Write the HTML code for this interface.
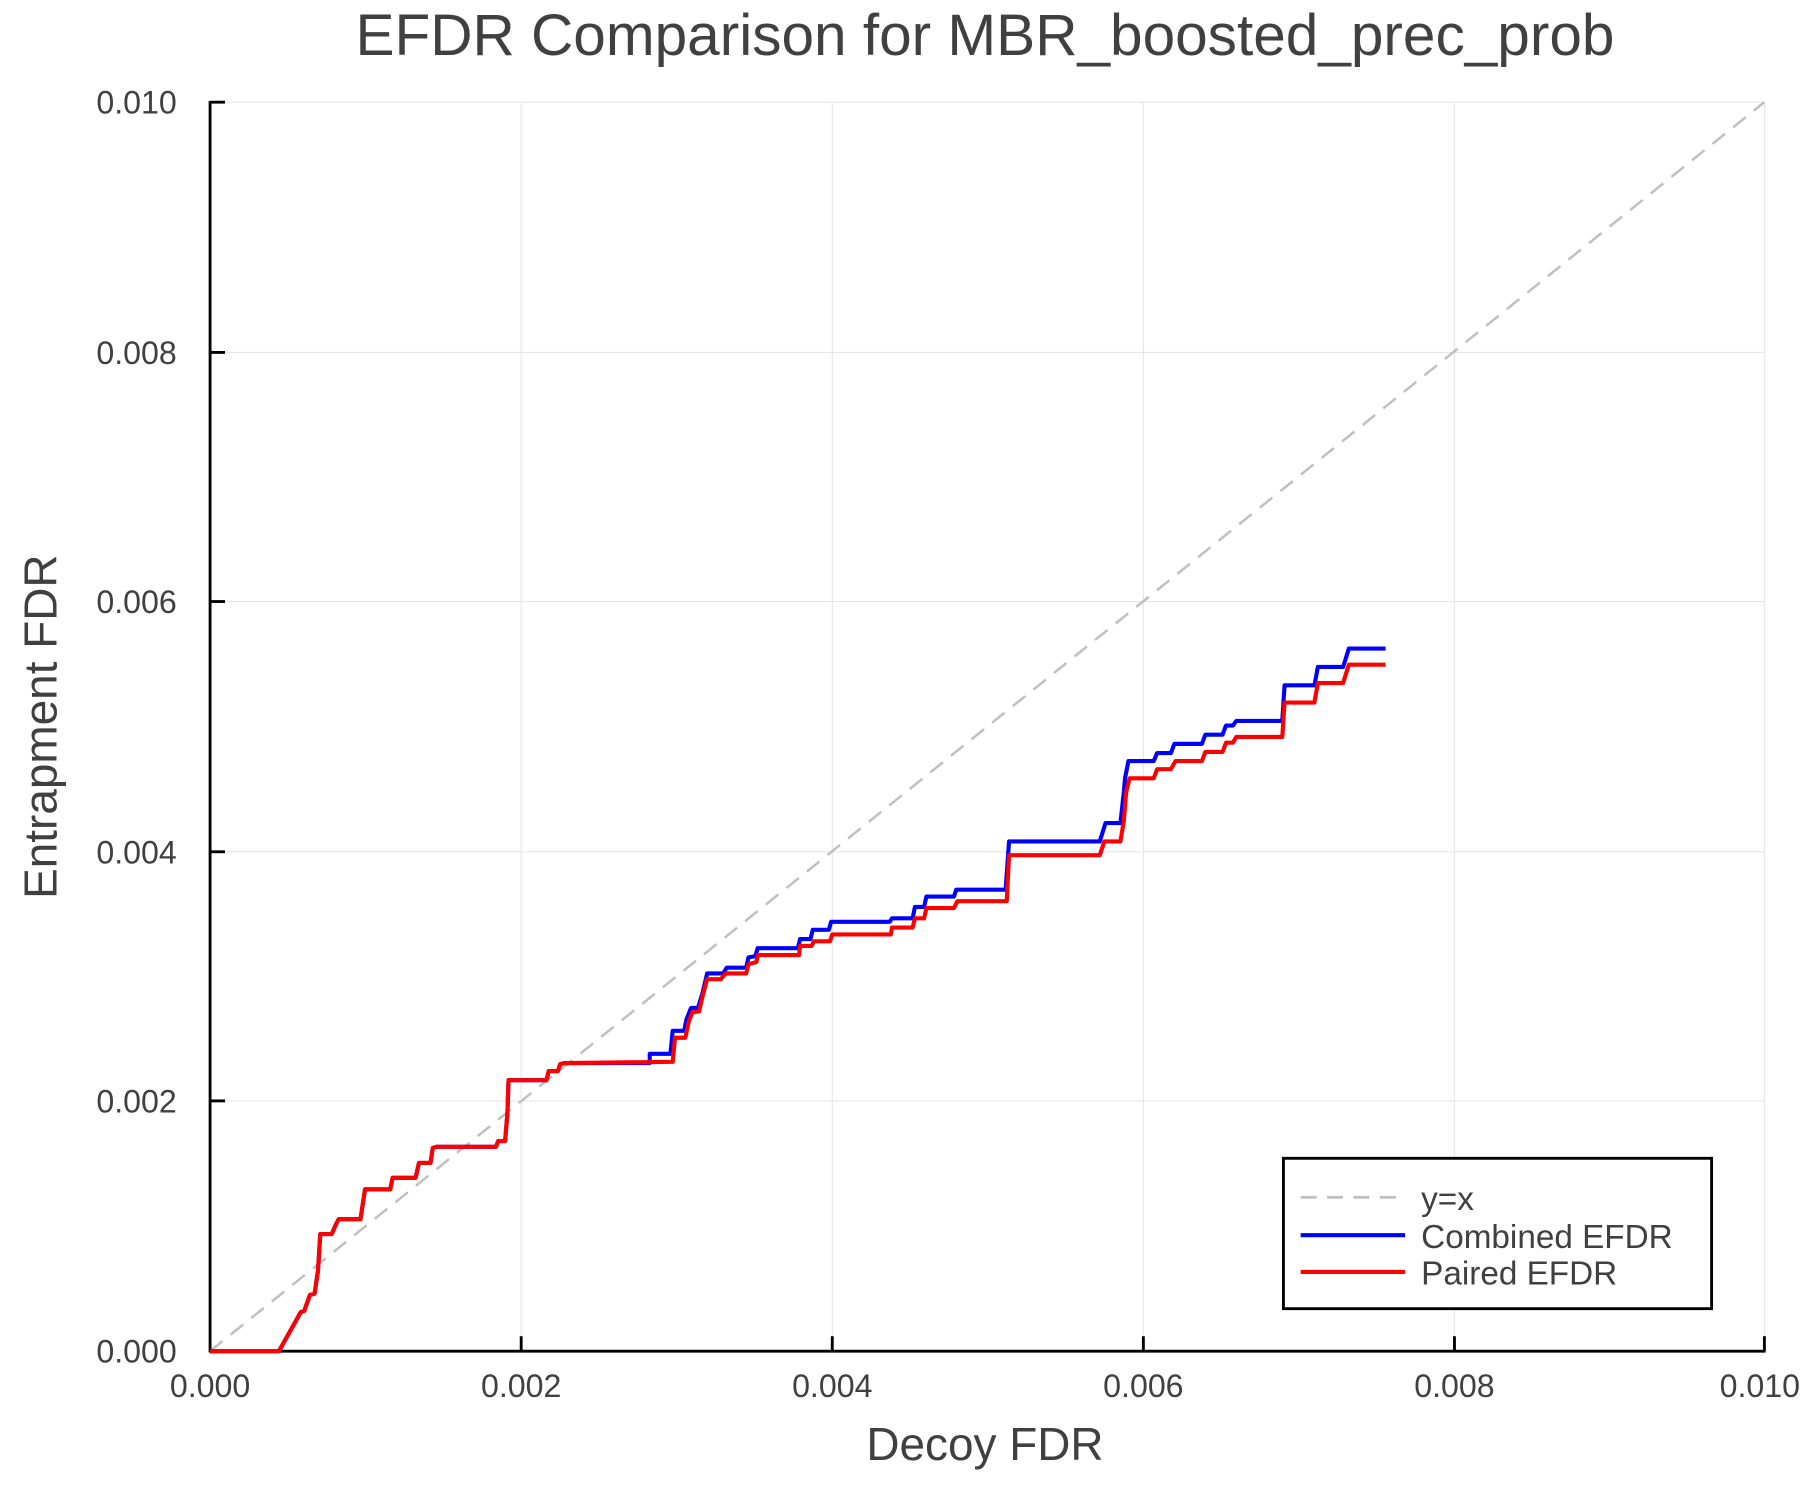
<!DOCTYPE html>
<html><head><meta charset="utf-8"><style>html,body{margin:0;padding:0;background:#fff}svg{display:block}</style></head>
<body>
<svg width="1800" height="1500" viewBox="0 0 1568 1306.67" xmlns="http://www.w3.org/2000/svg" font-family="Liberation Sans, sans-serif">
<rect width="1568" height="1306.67" fill="#fff"/>
<g stroke="#e6e6e6" stroke-width="1">
<line x1="454" y1="89" x2="454" y2="1177"/><line x1="725" y1="89" x2="725" y2="1177"/><line x1="996" y1="89" x2="996" y2="1177"/><line x1="1267" y1="89" x2="1267" y2="1177"/><line x1="1537" y1="89" x2="1537" y2="1177"/>
<line x1="183" y1="959" x2="1537" y2="959"/><line x1="183" y1="742" x2="1537" y2="742"/><line x1="183" y1="524" x2="1537" y2="524"/><line x1="183" y1="307" x2="1537" y2="307"/><line x1="183" y1="89" x2="1537" y2="89"/>
</g>
<line x1="183" y1="1177" x2="1537" y2="89" stroke="#c0c0c0" stroke-width="2.2" stroke-dasharray="14,9"/>
<g stroke="#000" stroke-width="2.5" fill="none">
<line x1="183" y1="88" x2="183" y2="1178"/><line x1="182" y1="1177" x2="1538" y2="1177"/>
<line x1="454" y1="1177" x2="454" y2="1164"/><line x1="725" y1="1177" x2="725" y2="1164"/><line x1="996" y1="1177" x2="996" y2="1164"/><line x1="1267" y1="1177" x2="1267" y2="1164"/><line x1="1537" y1="1177" x2="1537" y2="1164"/>
<line x1="183" y1="959" x2="196" y2="959"/><line x1="183" y1="742" x2="196" y2="742"/><line x1="183" y1="524" x2="196" y2="524"/><line x1="183" y1="307" x2="196" y2="307"/><line x1="183" y1="89" x2="196" y2="89"/>
</g>
<polyline fill="none" stroke="#0000ff" stroke-width="3.6" stroke-linejoin="round" points="183,1177 243,1177 262,1143 265,1142 270,1128 274,1127 277,1107 279,1075 289,1075 292,1068 295,1062 314,1062 318,1036 340,1036 342,1026 362,1026 365,1013 375,1013 377,1000 380,999 432,999 434,994 440,994 442,970 443,941 476,941 478,933 486,933 488,927 492,926 566,926 566,918 584,918 586,898 596,898 598,888 602,878 608,878 612,865 616,848 630,848 633,843 650,843 652,834 658,833 660,826 695,826 697,818 706,818 708,810 722,810 724,803 775,803 777,800 795,800 797,790 805,790 807,781 831,781 833,775 876,775 879,733 958,733 963,717 976,717 979,690 980,678 983,663 1005,663 1008,656 1020,656 1023,648 1047,648 1050,640 1065,640 1068,632 1074,632 1077,628 1117,628 1119,597 1145,597 1148,581 1170,581 1175,565 1207,565"/>
<polyline fill="none" stroke="#ff0000" stroke-width="3.6" stroke-linejoin="round" points="183,1177 243,1177 262,1143 265,1142 270,1128 274,1127 277,1107 279,1075 289,1075 292,1068 295,1062 314,1062 318,1036 340,1036 342,1026 362,1026 365,1013 375,1013 377,1000 380,999 432,999 434,994 440,994 442,970 443,941 476,941 478,933 486,933 488,927 492,926 586,925 588,904 597,904 600,890 603,882 609,881 612,868 616,853 628,853 632,848 650,848 652,840 659,838 660,832 696,832 697,824 707,824 709,820 723,820 725,814 776,814 777,808 795,808 797,800 805,800 807,791 831,791 834,785 877,785 879,745 958,745 962,733 976,733 979,715 981,690 984,678 1005,678 1008,670 1020,670 1024,663 1047,663 1050,655 1065,655 1068,647 1074,647 1077,642 1117,642 1119,612 1145,612 1148,595 1170,595 1175,579 1207,579"/>
<g fill="#404040" font-size="28" text-anchor="end">
<text x="154" y="1187">0.000</text><text x="154" y="969">0.002</text><text x="154" y="752">0.004</text><text x="154" y="534">0.006</text><text x="154" y="317">0.008</text><text x="154" y="99">0.010</text>
</g>
<g fill="#404040" font-size="28" text-anchor="middle">
<text x="183" y="1217">0.000</text><text x="454" y="1217">0.002</text><text x="725" y="1217">0.004</text><text x="996" y="1217">0.006</text><text x="1267" y="1217">0.008</text><text x="1533" y="1217">0.010</text>
</g>
<text x="858" y="1272" fill="#404040" font-size="40" text-anchor="middle">Decoy FDR</text>
<text transform="translate(49,633) rotate(-90)" fill="#404040" font-size="40" text-anchor="middle">Entrapment FDR</text>
<text x="858" y="48" fill="#404040" font-size="51" text-anchor="middle">EFDR Comparison for MBR_boosted_prec_prob</text>
<rect x="1118" y="1009" width="373" height="131" fill="#fff" stroke="#000" stroke-width="2.5"/>
<line x1="1133" y1="1043" x2="1224" y2="1043" stroke="#c0c0c0" stroke-width="2.5" stroke-dasharray="14,9"/>
<line x1="1133" y1="1076" x2="1224" y2="1076" stroke="#0000ff" stroke-width="3.6"/>
<line x1="1133" y1="1108" x2="1224" y2="1108" stroke="#ff0000" stroke-width="3.6"/>
<g fill="#404040" font-size="29">
<text x="1238" y="1054">y=x</text><text x="1238" y="1087">Combined EFDR</text><text x="1238" y="1119">Paired EFDR</text>
</g>
</svg>
</body></html>
